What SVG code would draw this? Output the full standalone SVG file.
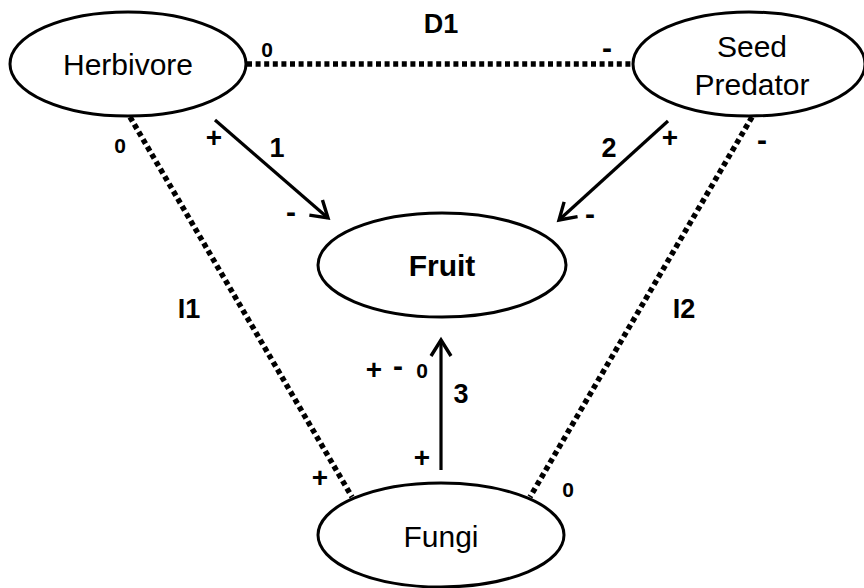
<svg xmlns="http://www.w3.org/2000/svg" width="864" height="588" viewBox="0 0 864 588">
  <style>
    .node { fill: #ffffff; stroke: #000000; stroke-width: 3; }
    .name { font-family: "Liberation Sans", Arial, sans-serif; font-size: 30px; fill: #000000; text-anchor: middle; }
    .bold { font-weight: bold; }
    .edge { stroke: #000000; stroke-width: 3.2; fill: none; }
    .dotted { stroke: #000000; stroke-width: 5.5; fill: none; stroke-dasharray: 5 3.6; }
    .tag { font-family: "Liberation Sans", Arial, sans-serif; font-weight: bold; font-size: 27px; fill: #000000; text-anchor: middle; }
    .sign { font-family: "Liberation Sans", Arial, sans-serif; font-weight: bold; font-size: 21px; fill: #000000; text-anchor: middle; }
    .plus { font-size: 28px; }
    .minus { font-size: 30px; }
  </style>
  <defs>
    <marker id="arrow" viewBox="-20 -13 24 26" refX="0" refY="0" markerWidth="24" markerHeight="26" markerUnits="userSpaceOnUse" orient="auto">
      <path d="M-16,-10 L0,0 L-16,10" fill="none" stroke="#000000" stroke-width="3.4"/>
    </marker>
  </defs>
  <rect width="864" height="588" fill="#ffffff"/>

  <!-- interaction connectors -->
  <g id="connectors">
    <line class="dotted" x1="247" y1="64" x2="633" y2="64"/>
    <line class="dotted" x1="130" y1="117" x2="352" y2="497"/>
    <line class="dotted" x1="752" y1="117" x2="530" y2="497"/>
    <line class="edge" x1="215" y1="120" x2="328" y2="218" marker-end="url(#arrow)"/>
    <line class="edge" x1="668" y1="121" x2="559" y2="220" marker-end="url(#arrow)"/>
    <line class="edge" x1="441" y1="470" x2="441" y2="340" marker-end="url(#arrow)"/>

    <text class="tag" x="441" y="33">D1</text>
    <text class="tag" x="277" y="157">1</text>
    <text class="tag" x="609" y="157">2</text>
    <text class="tag" x="461" y="403">3</text>
    <text class="tag" x="189" y="318">I1</text>
    <text class="tag" x="684" y="318">I2</text>

    <text class="sign" x="267" y="57">0</text>
    <text class="sign minus" x="607" y="58">-</text>
    <text class="sign" x="120" y="153">0</text>
    <text class="sign plus" x="214" y="147">+</text>
    <text class="sign minus" x="291" y="222">-</text>
    <text class="sign plus" x="670" y="147">+</text>
    <text class="sign minus" x="590" y="224">-</text>
    <text class="sign minus" x="762" y="150">-</text>
    <text class="sign plus" x="374" y="379">+</text>
    <text class="sign minus" x="398" y="376">-</text>
    <text class="sign" x="422" y="378">0</text>
    <text class="sign plus" x="422" y="467">+</text>
    <text class="sign plus" x="320" y="487">+</text>
    <text class="sign" x="568" y="497">0</text>
  </g>

  <g id="herbivore">
    <ellipse class="node" cx="128" cy="64" rx="118" ry="52"/>
    <text class="name" x="128" y="75">Herbivore</text>
  </g>
  <g id="seed-predator">
    <ellipse class="node" cx="749" cy="64" rx="116" ry="52"/>
    <text class="name" x="752" y="57">Seed</text>
    <text class="name" x="752" y="95">Predator</text>
  </g>
  <g id="fruit">
    <ellipse class="node" cx="442" cy="265" rx="124" ry="52"/>
    <text class="name bold" x="442" y="276">Fruit</text>
  </g>
  <g id="fungi">
    <ellipse class="node" cx="441" cy="535" rx="123" ry="52"/>
    <text class="name" x="441" y="547">Fungi</text>
  </g>
</svg>
